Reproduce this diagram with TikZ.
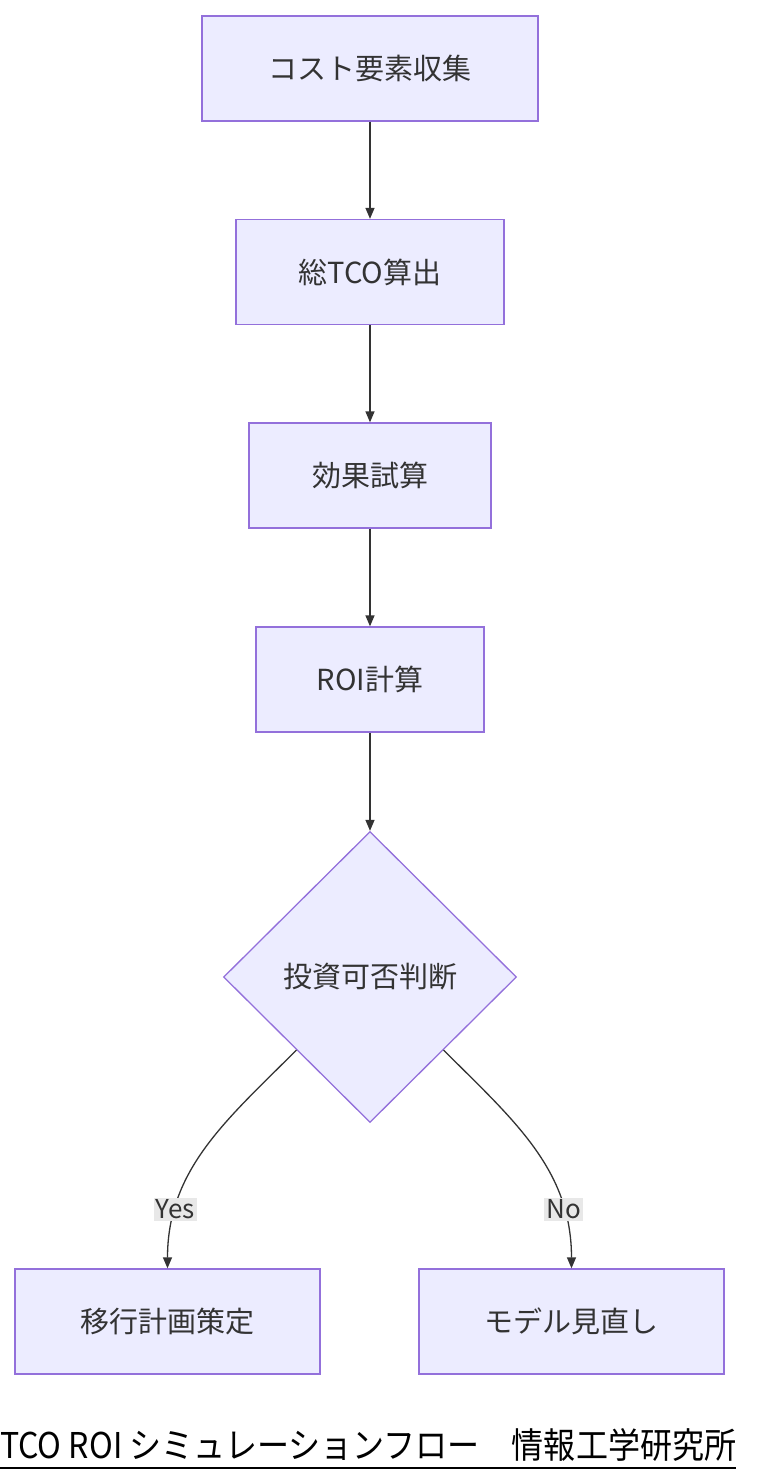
\documentclass[tikz,border=0pt]{standalone}
\usepackage{fontspec}
\setmainfont{Noto Sans CJK JP}
\usetikzlibrary{shapes.geometric,arrows.meta}
\definecolor{boxfill}{HTML}{ECECFF}
\definecolor{boxline}{HTML}{9370DB}
\definecolor{edgecol}{HTML}{333333}
\begin{document}
\begin{tikzpicture}[x=1pt,y=-1pt,
  stage/.style={rectangle,draw=boxline,fill=boxfill,line width=1.3pt,minimum height=105pt,font=\fontsize{29}{33}\selectfont,text=edgecol},
  decide/.style={diamond,draw=boxline,fill=boxfill,line width=1.3pt,minimum width=293pt,minimum height=291pt,inner sep=0pt,font=\fontsize{29}{33}\selectfont,text=edgecol},
  edge/.style={draw=edgecol,line width=1.3pt,-{Triangle[length=11pt,width=9pt]}},
  tag/.style={fill=black!9,inner sep=2pt,font=\fontsize{26}{30}\selectfont,text=edgecol}]
\useasboundingbox (0,0) rectangle (756,1484);
\node(collect)[stage,minimum width=336pt] at (370,68.5) {コスト要素収集};
\node(tco)[stage,minimum width=268pt] at (370,272) {総TCO算出};
\node(effect)[stage,minimum width=242pt] at (370,475.5) {効果試算};
\node(roi)[stage,minimum width=228pt] at (370,679.5) {ROI計算};
\node(judge)[decide] at (370,977) {投資可否判断};
\node(plan)[stage,minimum width=305pt] at (167.5,1321.5) {移行計画策定};
\node(review)[stage,minimum width=305pt] at (571.5,1321.5) {モデル見直し};

\draw [edge] (collect) -- (tco);
\draw [edge] (tco) -- (effect);
\draw [edge] (effect) -- (roi);
\draw [edge] (roi) -- (judge);
\draw [edge] (judge.south west) to[out=-135,in=90] node[tag,pos=0.78]{Yes} (plan.north);
\draw [edge] (judge.south east) to[out=-45,in=90] node[tag,pos=0.78]{No} (review.north);

\node(caption)[anchor=south west,inner sep=0pt] at (0,1462)
  {\resizebox{736pt}{30pt}{\fontsize{28}{32}\selectfont TCO ROI シミュレーションフロー　情報工学研究所}};
\draw [line width=1.5pt] (caption.south west) ++(0,6) -- ++(736,0);
\end{tikzpicture}
\end{document}
